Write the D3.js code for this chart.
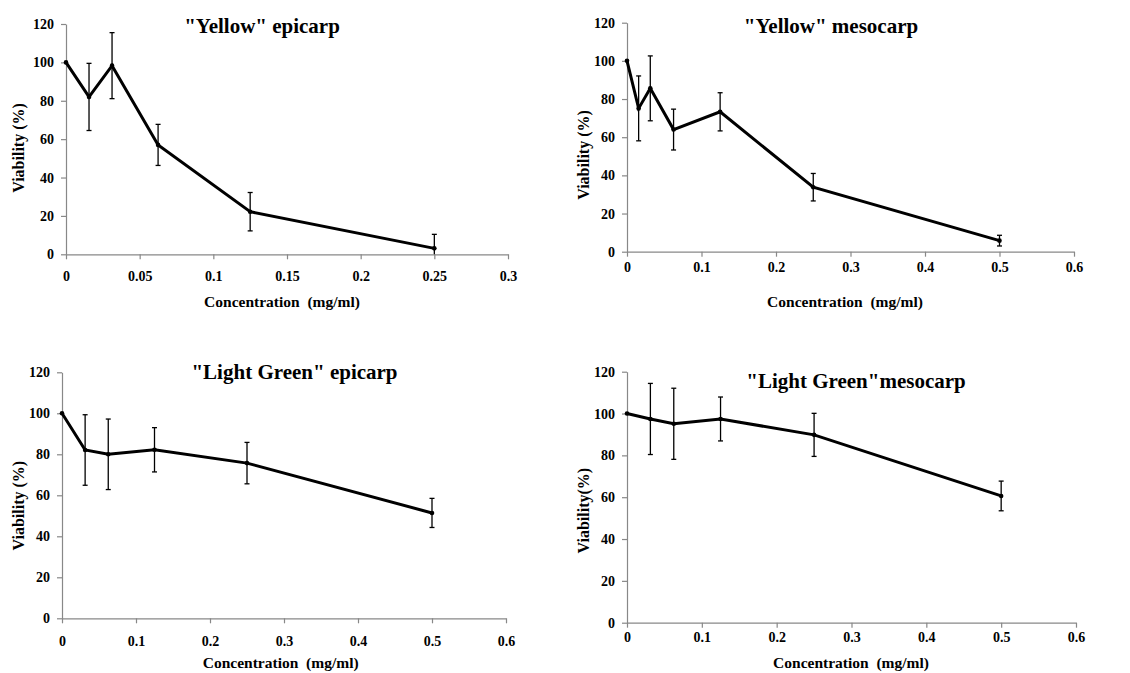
<!DOCTYPE html>
<html>
<head>
<meta charset="utf-8">
<script src="https://cdn.jsdelivr.net/npm/d3@7"></script>
<style>
  html, body { margin: 0; padding: 0; background: #fff; }
  svg { display: block; }
</style>
</head>
<body>
<svg id="chart" width="1130" height="673"></svg>
<script>
// Cell viability (%) versus extract concentration (mg/ml), mean ± error
const yellowEpiConc = [0, 0.015625, 0.03125, 0.0625, 0.125, 0.25];
const yellowEpiViab = [100, 82, 98.3, 57, 22.2, 3.1];
const yellowEpiErr  = [0, 17.5, 17.2, 10.7, 10, 7.3];

const yellowMesoConc = [0, 0.015625, 0.03125, 0.0625, 0.125, 0.25, 0.5];
const yellowMesoViab = [100, 75.1, 85.6, 64, 73.3, 33.8, 5.8];
const yellowMesoErr  = [0, 17, 17, 10.7, 10, 7.2, 2.8];

const greenEpiConc = [0, 0.03125, 0.0625, 0.125, 0.25, 0.5];
const greenEpiViab = [100, 82.1, 80, 82.2, 75.7, 51.4];
const greenEpiErr  = [0, 17.2, 17.2, 10.8, 10.1, 7.1];

const greenMesoConc = [0, 0.03125, 0.0625, 0.125, 0.25, 0.5];
const greenMesoViab = [100, 97.4, 95.1, 97.4, 89.8, 60.6];
const greenMesoErr  = [0, 17, 17, 10.5, 10.3, 7.1];

const xTicksShort = [0, 0.05, 0.1, 0.15, 0.2, 0.25, 0.3];
const xTicksLong  = [0, 0.1, 0.2, 0.3, 0.4, 0.5, 0.6];
const yTicks      = [0, 20, 40, 60, 80, 100, 120];

const titles = ['"Yellow" epicarp', '"Yellow" mesocarp', '"Light Green" epicarp', '"Light Green"mesocarp'];
const xAxisTitle = "Concentration  (mg/ml)";
const yAxisTitles = ["Viability (%)", "Viability (%)", "Viability (%)", "Viability(%)"];

// Panel frames and label placement
const panels = [
  { conc: yellowEpiConc, viab: yellowEpiViab, err: yellowEpiErr, xTicks: xTicksShort,
    left: 66, right: 508, top: 24, bottom: 254.3, xPad: 12,
    title: [262, 32.5], xLab: [282, 306.5], yLab: [18, 148] },
  { conc: yellowMesoConc, viab: yellowMesoViab, err: yellowMesoErr, xTicks: xTicksLong,
    left: 627, right: 1074, top: 22.7, bottom: 251.7, xPad: 5,
    title: [831, 32.7], xLab: [845, 306.5], yLab: [583, 155] },
  { conc: greenEpiConc, viab: greenEpiViab, err: greenEpiErr, xTicks: xTicksLong,
    left: 62, right: 506, top: 372.3, bottom: 618.3, xPad: 13,
    title: [294.5, 379.3], xLab: [280.7, 668], yLab: [18, 505.7] },
  { conc: greenMesoConc, viab: greenMesoViab, err: greenMesoErr, xTicks: xTicksLong,
    left: 627, right: 1076, top: 371.7, bottom: 622.7, xPad: 4,
    title: [856, 388.3], xLab: [851, 668], yLab: [583, 510.7] }
];

const FONT = '"Liberation Serif", Tinos, "Times New Roman", Times, "DejaVu Serif", serif';
const svg = d3.select("#chart");
const axisColor = "#888";
const fmt = d => String(+d.toFixed(2));

function styleText(sel, size) {
  sel.style("font-family", FONT).style("font-weight", "bold")
     .style("font-size", size + "px").style("fill", "#000");
}

panels.forEach((p, i) => {
  const x = d3.scaleLinear().domain([p.xTicks[0], p.xTicks[p.xTicks.length - 1]]).range([p.left, p.right]);
  const y = d3.scaleLinear().domain([0, 120]).range([p.bottom, p.top]);
  const g = svg.append("g");

  // axes
  const xAxis = g.append("g").attr("transform", `translate(0,${p.bottom})`)
    .call(d3.axisBottom(x).tickValues(p.xTicks).tickFormat(fmt).tickSize(5).tickSizeOuter(0).tickPadding(p.xPad));
  const yAxis = g.append("g").attr("transform", `translate(${p.left},0)`)
    .call(d3.axisLeft(y).tickValues(yTicks).tickFormat(fmt).tickSize(5).tickSizeOuter(0).tickPadding(7));
  [xAxis, yAxis].forEach(a => {
    a.attr("font-family", null);
    a.selectAll(".domain, line").attr("stroke", axisColor).attr("stroke-width", 1.2);
    styleText(a.selectAll("text"), 14);
  });

  const pts = p.conc.map((c, k) => ({ c, v: p.viab[k], e: p.err[k] }));

  // error bars
  const eb = g.append("g").attr("stroke", "#000").attr("stroke-width", 1.3);
  pts.filter(d => d.e > 0).forEach(d => {
    const cx = x(d.c);
    const yTop = y(d.v + d.e);
    const yBot = y(Math.max(0, d.v - d.e));
    eb.append("line").attr("x1", cx).attr("x2", cx).attr("y1", yTop).attr("y2", yBot);
    eb.append("line").attr("x1", cx - 2.5).attr("x2", cx + 2.5).attr("y1", yTop).attr("y2", yTop);
    if (d.v - d.e > 0) eb.append("line").attr("x1", cx - 2.5).attr("x2", cx + 2.5).attr("y1", yBot).attr("y2", yBot);
  });

  // mean line
  g.append("path").datum(pts)
    .attr("fill", "none").attr("stroke", "#000").attr("stroke-width", 3).attr("stroke-linejoin", "miter")
    .attr("d", d3.line().x(d => x(d.c)).y(d => y(d.v)));
  g.selectAll("circle.pt").data(pts).join("circle")
    .attr("cx", d => x(d.c)).attr("cy", d => y(d.v)).attr("r", 2.3).attr("fill", "#000");

  // titles
  g.append("text").attr("x", p.title[0]).attr("y", p.title[1]).attr("text-anchor", "middle")
    .text(titles[i]).call(styleText, 21);
  g.append("text").attr("x", p.xLab[0]).attr("y", p.xLab[1]).attr("text-anchor", "middle")
    .style("white-space", "pre").text(xAxisTitle).call(styleText, 15.5);
  g.append("text").attr("transform", `translate(${p.yLab[0]},${p.yLab[1]}) rotate(-90)`)
    .attr("text-anchor", "middle").attr("dy", "0.35em").text(yAxisTitles[i]).call(styleText, 16);
});
</script>
</body>
</html>
